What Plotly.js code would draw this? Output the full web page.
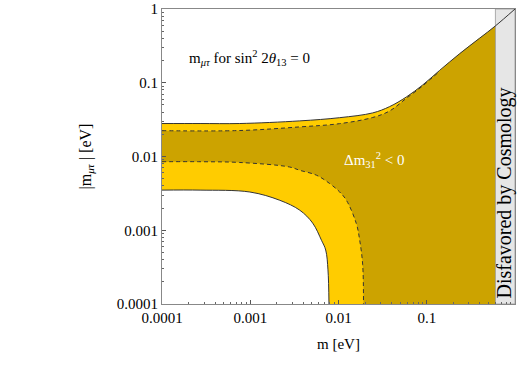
<!DOCTYPE html>
<html>
<head>
<meta charset="utf-8">
<script src="https://cdn.plot.ly/plotly-3.0.1.min.js"></script>
<style>
  html, body { margin: 0; padding: 0; background: #fff; }
  #chart { width: 518px; height: 365px; }
</style>
</head>
<body>
<div id="chart"></div>
<script>
// |m_mutau| bands vs lightest mass m
const upperSolidM = [1e-4, 2.7e-4, 7.6e-4, 0.00364, 0.0103, 0.0244, 0.038, 0.0586, 0.0897, 0.1396, 0.235, 0.395, 0.6, 1]
const upperSolidY = [0.028, 0.028, 0.028, 0.0304, 0.0336, 0.039, 0.0475, 0.064, 0.093, 0.1467, 0.247, 0.40, 0.59, 1]

const upperDashM = [1e-4, 7.6e-4, 0.00364, 0.0103, 0.0244, 0.038, 0.0586, 0.0897, 0.1396]
const upperDashY = [0.0224, 0.0225, 0.0252, 0.0279, 0.0338, 0.0415, 0.0615, 0.0905, 0.143]

const lowerDashM = [1e-4, 2.7e-4, 7.6e-4, 0.0028, 0.00364, 0.00564, 0.00794, 0.0103, 0.0123, 0.0159, 0.0174, 0.0188, 0.0192]
const lowerDashY = [0.0085, 0.0085, 0.0083, 0.0072, 0.0065, 0.00557, 0.0043, 0.00331, 0.00255, 0.00124, 7.3e-4, 3.4e-4, 1e-4]

const lowerSolidM = [1e-4, 2.7e-4, 9.9e-4, 0.00216, 0.00364, 0.0051, 0.00642, 0.00716, 0.0076, 0.0078]
const lowerSolidY = [0.0035, 0.0035, 0.0033, 0.00255, 0.00187, 0.00125, 7.3e-4, 5.4e-4, 2.9e-4, 1e-4]

const cosmoBound = 0.6
const axisMin = 1e-4, axisMax = 1

const tickVals = [1e-4, 1e-3, 1e-2, 0.1, 1]
const tickText = ['0.0001', '0.001', '0.01', '0.1', '1']
const minorVals = []
tickVals.slice(0, -1).forEach(d => { for (let k = 2; k <= 9; k++) minorVals.push(d * k) })

const yellow = '#FFCC00'
const gold = '#CCA300'
const grey = '#E6E6E6'
const serif = 'Liberation Serif, Times New Roman, serif'

// fill outlines run below the axis so the spline corners get clipped away;
// anything right of the cosmology bound is covered by the grey band
const below = axisMin / 10
const last = a => a[a.length - 1]

const yellowX = upperSolidM.concat([axisMax, last(lowerSolidM)], lowerSolidM.slice().reverse())
const yellowY = upperSolidY.concat([below, below], lowerSolidY.slice().reverse())

const lastDash = last(upperDashM)
const goldTop = upperDashM.map((m, i) => [m, upperDashY[i]])
    .concat(upperSolidM.map((m, i) => [m, upperSolidY[i]]).filter(p => p[0] > lastDash))
const goldX = goldTop.map(p => p[0]).concat([axisMax, last(lowerDashM)], lowerDashM.slice().reverse())
const goldY = goldTop.map(p => p[1]).concat([below, below], lowerDashY.slice().reverse())

const spline = { shape: 'spline', smoothing: 1, simplify: false }

let data = [{
    x: yellowX, y: yellowY, mode: 'lines', fill: 'toself',
    fillcolor: yellow, line: Object.assign({ width: 0 }, spline),
}, {
    x: goldX, y: goldY, mode: 'lines', fill: 'toself',
    fillcolor: gold, line: Object.assign({ width: 0 }, spline),
}, {
    x: [cosmoBound, axisMax, axisMax, cosmoBound, cosmoBound],
    y: [axisMin, axisMin, axisMax, axisMax, axisMin],
    mode: 'lines', fill: 'toself', fillcolor: grey,
    line: { width: 0.8, color: '#999' },
}, {
    x: upperSolidM, y: upperSolidY, mode: 'lines',
    line: Object.assign({ width: 1, color: '#333' }, spline),
}, {
    x: lowerSolidM, y: lowerSolidY, mode: 'lines',
    line: Object.assign({ width: 1, color: '#333' }, spline),
}, {
    x: upperDashM, y: upperDashY, mode: 'lines',
    line: Object.assign({ width: 1, color: '#333', dash: '4px,3px' }, spline),
}, {
    x: lowerDashM, y: lowerDashY, mode: 'lines',
    line: Object.assign({ width: 1, color: '#333', dash: '4px,3px' }, spline),
}]

const axisCommon = {
    type: 'log',
    range: [-4, 0],
    tickmode: 'array',
    tickvals: tickVals,
    ticktext: tickText,
    ticks: 'inside',
    ticklen: 4,
    tickcolor: '#555',
    minor: { tickmode: 'array', tickvals: minorVals, ticks: 'inside', ticklen: 2, tickcolor: '#666', showgrid: false },
    showgrid: false,
    zeroline: false,
    showline: true,
    linecolor: '#888',
    linewidth: 1,
    mirror: true,
    tickfont: { family: serif, size: 15, color: '#000' },
}

const layout = {
    width: 518,
    height: 365,
    margin: { l: 162, r: 3, t: 9, b: 61 },
    paper_bgcolor: '#fff',
    plot_bgcolor: '#fff',
    showlegend: false,
    hovermode: false,
    xaxis: Object.assign({}, axisCommon, {
        title: { text: 'm [eV]', font: { family: serif, size: 15, color: '#000' }, standoff: 13 },
    }),
    yaxis: Object.assign({}, axisCommon, {
        title: { text: '|m<sub><i>μτ</i></sub> | [eV]', font: { family: serif, size: 16, color: '#000' }, standoff: 21 },
    }),
    annotations: [{
        xref: 'paper', yref: 'paper', x: 0.07, y: 0.833,
        xanchor: 'left', yanchor: 'middle', showarrow: false,
        text: 'm<sub><i>μτ</i></sub> for sin<sup>2</sup> 2<i>θ</i><sub>13</sub> = 0',
        font: { family: serif, size: 15, color: '#000' },
    }, {
        xref: 'paper', yref: 'paper', x: 0.603, y: 0.487,
        xanchor: 'center', yanchor: 'middle', showarrow: false,
        text: 'Δm<sub>31</sub><sup>2</sup> &lt; 0',
        font: { family: serif, size: 15, color: '#fff' },
    }, {
        xref: 'paper', yref: 'paper', x: 0.971, y: 0.377,
        xanchor: 'center', yanchor: 'middle', showarrow: false,
        textangle: -90,
        text: 'Disfavored by Cosmology',
        font: { family: serif, size: 20, color: '#000' },
    }],
}

Plotly.newPlot('chart', data, layout, { staticPlot: true })
</script>
</body>
</html>
